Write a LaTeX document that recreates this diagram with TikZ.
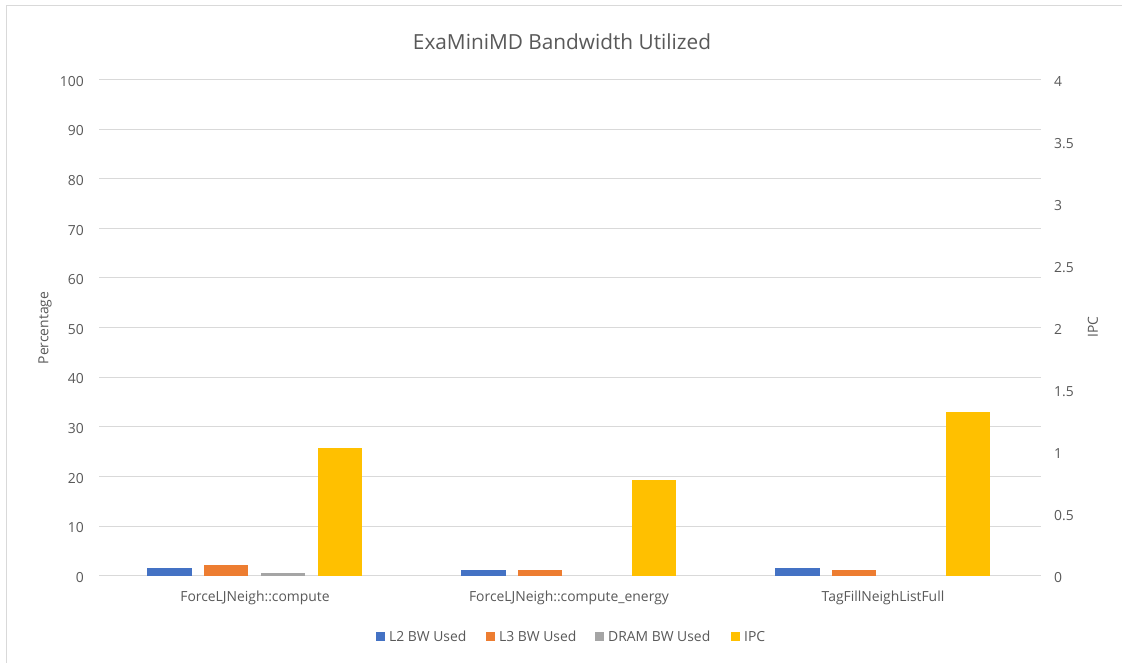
\documentclass[tikz,border=0pt]{standalone}
\usepackage{fontspec}
\setmainfont{Open Sans}
\definecolor{txt}{HTML}{595959}
\definecolor{gridc}{HTML}{D9D9D9}
\definecolor{sL2}{HTML}{4472C4}
\definecolor{sL3}{HTML}{ED7D31}
\definecolor{sDRAM}{HTML}{A5A5A5}
\definecolor{sIPC}{HTML}{FFC000}
\tikzset{
  gridline/.style={draw=gridc, line width=1pt},
  frameline/.style={draw=gridc, line width=1pt},
  ticklabel/.style={text=txt, inner sep=0pt, font=\fontsize{13.9}{16}\selectfont},
  axtitle/.style={text=txt, inner sep=0pt, rotate=90, font=\fontsize{13.9}{16}\selectfont},
  catlabel/.style={text=txt, inner sep=0pt, font=\fontsize{13.9}{16}\selectfont},
  legtext/.style={text=txt, inner sep=0pt, anchor=west, font=\fontsize{13.9}{16}\selectfont},
  charttitle/.style={text=txt, inner sep=0pt, font=\fontsize{20.8}{24}\selectfont},
}
% plot geometry (pt): baseline, left/right ends, height of 10 units
\def\yzero{575.7}
\def\ystep{49.63}
\def\xleft{99}
\def\xright{1041}
\begin{document}
\begin{tikzpicture}[x=1pt,y=-1pt]
\useasboundingbox (0,0) rectangle (1122,663);
\fill[white] (0,0) rectangle (1122,663);
% chart frame
\draw[frameline] (6,663) -- (6,6) -- (1122,6);
% title
\node[charttitle] (title) at (562,41.5) {ExaMiniMD Bandwidth Utilized};
% horizontal gridlines and left tick labels
\foreach \v [count=\i from 0] in {0,10,20,30,40,50,60,70,80,90,100} {
  \pgfmathsetmacro{\yy}{\yzero-\ystep*\i}
  \draw[gridline] (\xleft,\yy) -- (\xright,\yy);
  \node[ticklabel, anchor=east] (l\i) at (84,\yy+1.8) {\v};
}
% right (IPC) tick labels: 0.5 per gridline
\foreach \r [count=\i from 0] in {0,0.5,1,1.5,2,2.5,3,3.5,4} {
  \pgfmathsetmacro{\yy}{\yzero-\ystep*\i*10/8}
  \node[ticklabel, anchor=west] (r\i) at (1054,\yy+1.8) {\r};
}
% axis titles
\node[axtitle] (ytitle) at (45,328) {Percentage};
\node[axtitle] (y2title) at (1093,327) {IPC};
% bars: category centre, L2 %, L3 %, DRAM %, IPC
\foreach \c/\a/\b/\d/\p [count=\k] in {256/1.55/2.25/0.45/1.03, 570/1.1/1.1/0/0.77, 884/1.5/1.15/0/1.32} {
  \pgfmathsetmacro{\gx}{\c-108.7}
  \fill[sL2]  (\gx,\yzero) rectangle ++(44.3,{-\a*\ystep/10});
  \fill[sL3]  (\gx+56.8,\yzero) rectangle ++(44.3,{-\b*\ystep/10});
  \ifdim\d pt>0pt
    \fill[sDRAM] (\gx+113.6,\yzero) rectangle ++(44.3,{-\d*\ystep/10});
  \fi
  \fill[sIPC] (\gx+170.4,\yzero) rectangle ++(44.3,{-\p*\ystep*2.5});
}
% category labels
\node[catlabel] (c1) at (255,598) {ForceLJNeigh::compute};
\node[catlabel] (c2) at (569,598) {ForceLJNeigh::compute\_energy};
\node[catlabel] (c3) at (883,598) {TagFillNeighListFull};
% legend
\foreach \col/\x/\t [count=\j] in {sL2/376/L2 BW Used, sL3/486/L3 BW Used, sDRAM/595/DRAM BW Used, sIPC/731/IPC} {
  \fill[\col] (\x,631.5) rectangle ++(9,9);
  \node[legtext] (leg\j) at (\x+13,636.5) {\t};
}
\end{tikzpicture}
\end{document}
